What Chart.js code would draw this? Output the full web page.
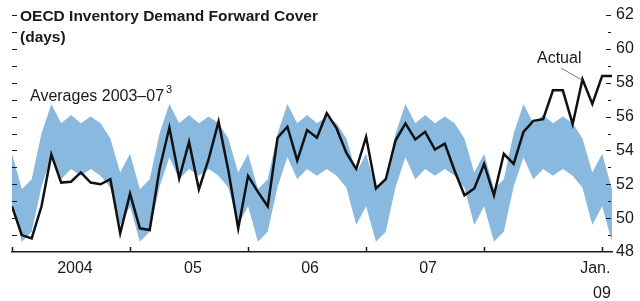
<!DOCTYPE html>
<html>
<head>
<meta charset="utf-8">
<script src="https://cdn.jsdelivr.net/npm/chart.js@4/dist/chart.umd.min.js"></script>
<style>
  html, body { margin: 0; padding: 0; background: #fff; }
  #wrap { width: 640px; height: 301px; }
</style>
</head>
<body>
<div id="wrap"><canvas id="chart" width="640" height="301"></canvas></div>
<script>
// Monthly, Jan 2004 .. Feb 2009
const actual = [
    50.7, 49.0, 48.8, 50.7, 53.75, 52.1, 52.15, 52.7, 52.1, 52.0, 52.3, 49.1,
    51.45, 49.4, 49.3, 52.9, 55.35, 52.35, 54.5, 51.7, 53.5, 55.7, 52.8, 49.4,
    52.5, 51.55, 50.7, 54.75, 55.4, 53.4, 55.2, 54.75, 56.2, 55.3, 53.85, 52.9,
    54.8, 51.75, 52.3, 54.6, 55.6, 54.65, 55.1, 54.05, 54.4, 52.8, 51.35, 51.75,
    53.2, 51.35, 53.8, 53.2, 55.1, 55.75, 55.85, 57.55, 57.55, 55.55, 58.2, 56.75,
    58.4, 58.4
];

// 2003-07 averages by calendar month (Jan..Dec), range of the band
const avgHigh = [53.8, 51.7, 52.3, 55.0, 56.75, 55.6, 56.1, 55.6, 56.0, 55.6, 54.7, 52.7];
const avgLow  = [50.7, 48.6, 49.2, 51.85, 53.6, 52.3, 52.9, 52.5, 52.9, 52.5, 51.8, 49.6];

const yearTicks = [0, 12, 24, 36, 48, 60];
const xLabelPos = [6.4, 18.4, 30.3, 42.3, 59.3];
const xLabels = ['2004', '05', '06', '07', ['Jan.', '   09']];

const FONT = "'Liberation Sans', Arial, sans-serif";
const INK = '#1a1a1a';
const BAND = 'rgb(138, 185, 223)';

const linePts = actual.map((v, i) => ({ x: i, y: v }));
const highPts = actual.map((v, i) => ({ x: i, y: avgHigh[i % 12] }));
const lowPts = actual.map((v, i) => ({ x: i, y: avgLow[i % 12] }));

const decor = {
    id: 'decor',
    afterDraw(chart) {
        const { ctx, chartArea: a, scales: { x, y } } = chart;
        ctx.save();
        ctx.strokeStyle = INK;
        ctx.lineWidth = 1;

        // inner ticks on both sides
        for (let v = 49; v <= 62; v++) {
            const py = Math.round(y.getPixelForValue(v)) + 0.5;
            ctx.beginPath();
            ctx.moveTo(a.left, py);
            ctx.lineTo(a.left + 5, py);
            const major = v % 2 === 0;
            ctx.moveTo(a.right - (major ? 6 : 4), py);
            ctx.lineTo(a.right - 1, py);
            ctx.stroke();
        }

        // year ticks on the bottom axis
        ctx.lineWidth = 1.5;
        for (const t of yearTicks) {
            const px = Math.round(x.getPixelForValue(t)) + 0.5;
            ctx.beginPath();
            ctx.moveTo(px, a.bottom);
            ctx.lineTo(px, a.bottom - 5);
            ctx.stroke();
        }

        // titles
        ctx.fillStyle = INK;
        ctx.textBaseline = 'alphabetic';
        ctx.textAlign = 'left';
        ctx.font = `bold 15.5px ${FONT}`;
        ctx.fillText('OECD Inventory Demand Forward Cover', 20, 21);
        ctx.fillText('(days)', 20, 42);

        ctx.font = `16px ${FONT}`;
        ctx.fillText('Averages 2003\u201307', 30, 101);
        const w = ctx.measureText('Averages 2003\u201307').width;
        ctx.font = `11px ${FONT}`;
        ctx.fillText('3', 30 + w + 2, 93);

        ctx.font = `16px ${FONT}`;
        ctx.fillText('Actual', 537, 63);

        // leader to the Nov 2008 point
        ctx.strokeStyle = '#555';
        ctx.lineWidth = 0.8;
        ctx.beginPath();
        ctx.moveTo(561, 68);
        ctx.lineTo(x.getPixelForValue(58), y.getPixelForValue(actual[58]) + 1);
        ctx.stroke();
        ctx.restore();
    }
};

new Chart(document.getElementById('chart'), {
    type: 'line',
    data: {
        datasets: [
            {
                label: 'Actual',
                data: linePts,
                borderColor: '#111',
                borderWidth: 2.5,
                pointRadius: 0,
                tension: 0,
                fill: false,
                order: 0
            },
            {
                label: 'High',
                data: highPts,
                borderWidth: 0,
                borderColor: BAND,
                backgroundColor: BAND,
                pointRadius: 0,
                tension: 0,
                fill: 2,
                order: 1
            },
            {
                label: 'Low',
                data: lowPts,
                borderWidth: 0,
                borderColor: BAND,
                pointRadius: 0,
                tension: 0,
                fill: false,
                order: 2
            }
        ]
    },
    options: {
        responsive: false,
        animation: false,
        layout: { padding: { left: 12, top: 15, right: 0, bottom: 0 } },
        plugins: {
            legend: { display: false },
            tooltip: { enabled: false },
            title: { display: false }
        },
        scales: {
            x: {
                type: 'linear',
                min: 0,
                max: 61,
                grid: { display: false },
                border: { display: true, color: INK, width: 1.5 },
                afterFit: scale => { scale.height = 49; },
                afterBuildTicks: scale => {
                    scale.ticks = xLabelPos.map(v => ({ value: v }));
                },
                ticks: {
                    autoSkip: false,
                    maxRotation: 0,
                    padding: -4,
                    color: INK,
                    font: { family: FONT, size: 16, lineHeight: 1.56 },
                    callback: (value, index) => xLabels[index]
                }
            },
            y: {
                position: 'right',
                min: 48,
                max: 62,
                grid: { display: false, drawTicks: false },
                border: { display: false },
                afterFit: scale => { scale.width = 28; },
                ticks: {
                    stepSize: 2,
                    padding: 4,
                    color: INK,
                    font: { family: FONT, size: 16 }
                }
            }
        }
    },
    plugins: [decor]
});
</script>
</body>
</html>
